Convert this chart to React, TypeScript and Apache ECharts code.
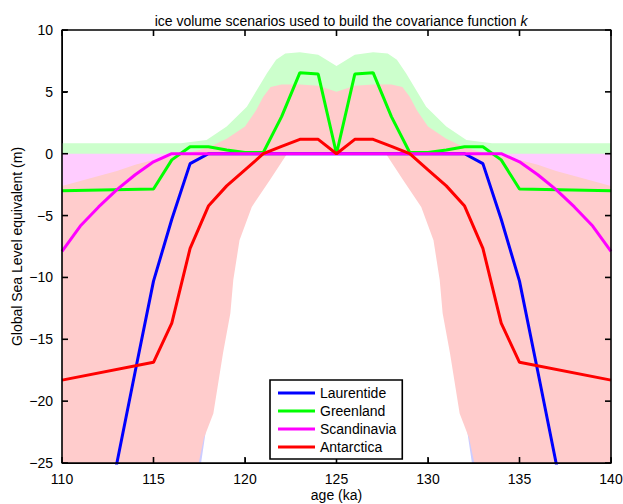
import React, { useEffect, useRef } from "react";
import * as echarts from "echarts";

// ---- thick scenario lines (age ka, GSL m) ----
const laurentide = [[112, -32.4], [113, -25], [114, -17.6], [115, -10.3], [116, -5.3], [117, -0.8], [118, 0], [132, 0], [133, -0.8], [134, -5.3], [135, -10.3], [136, -17.6], [137, -25], [138, -32.4]];
const greenland = [[110, -3.0], [115, -2.85], [116, -0.5], [117, 0.57], [118, 0.57], [119, 0.3], [120, 0.1], [121, 0.1], [122, 3.0], [123, 6.55], [124, 6.44], [125, 0], [126, 6.44], [127, 6.55], [128, 3.0], [129, 0.1], [130, 0.1], [131, 0.3], [132, 0.57], [133, 0.57], [134, -0.5], [135, -2.85], [140, -3.0]];
const scandinavia = [[110, -7.9], [111, -5.85], [112, -4.3], [113, -2.9], [114, -1.7], [115, -0.65], [116, 0], [134, 0], [135, -0.65], [136, -1.7], [137, -2.9], [138, -4.3], [139, -5.85], [140, -7.9]];
const antarctica = [[110, -18.3], [115, -16.86], [116, -13.7], [117, -7.65], [118, -4.23], [119, -2.6], [120, -1.3], [121, 0], [122, 0.6], [123, 1.16], [124, 1.16], [125, 0], [126, 1.16], [127, 1.16], [128, 0.6], [129, 0], [130, -1.3], [131, -2.6], [132, -4.23], [133, -7.65], [134, -13.7], [135, -16.86], [140, -18.3]];

// ---- ensemble envelopes (upper / lower edges of the faint scenario spread) ----
const laurentideBandUpper = [[110, 0], [140, 0]];
const laurentideBandLower = [[110, -30], [117.3, -30], [117.6, -25], [117.85, -22.5], [118.3, -15], [118.6, -2], [119, 0], [131, 0], [131.4, -2], [131.7, -15], [132.15, -22.5], [132.4, -25], [132.7, -30], [140, -30]];
const greenlandBandUpper = [[110, 0.84], [116.5, 0.84], [117.9, 1.1], [119, 2.2], [120.1, 3.8], [121.2, 6.5], [121.7, 7.6], [122.2, 8.1], [123, 8.2], [124, 8.0], [125, 7.1], [126, 8.0], [127, 8.2], [127.8, 8.1], [128.3, 7.6], [128.8, 6.5], [129.9, 3.8], [131, 2.2], [132.1, 1.1], [133.5, 0.84], [140, 0.84]];
const greenlandBandLower = [[110, -4], [116, -1], [117, 0], [133, 0], [134, -1], [140, -4]];
const scandinaviaBandUpper = [[110, 0], [140, 0]];
const scandinaviaBandLower = [[110, -30], [115, -30], [116.5, -5], [117, 0], [133, 0], [133.5, -5], [135, -30], [140, -30]];
const antarcticaBandUpper = [[110, -2.6], [111, -2.2], [112, -1.8], [113, -1.4], [114, -0.9], [115, -0.5], [116, -0.2], [117, 0.1], [118, 0.5], [119, 1.2], [120, 2.2], [120.6, 3.5], [121, 4.6], [121.4, 5.4], [122, 5.6], [123, 5.6], [124, 5.5], [125, 5.0], [126, 5.5], [127, 5.6], [128, 5.6], [128.6, 5.4], [129, 4.6], [129.4, 3.5], [130, 2.2], [131, 1.2], [132, 0.5], [133, 0.1], [134, -0.2], [135, -0.5], [136, -0.9], [137, -1.4], [138, -1.8], [139, -2.2], [140, -2.6]];
const antarcticaBandLower = [[110, -30], [117.2, -30], [117.4, -25.5], [117.75, -23], [118.27, -21], [118.8, -16.1], [119.2, -12.9], [119.36, -10.2], [119.7, -7.0], [120.37, -4.3], [121.37, -2.1], [122.3, 0], [127.7, 0], [128.63, -2.1], [129.63, -4.3], [130.3, -7.0], [130.64, -10.2], [130.8, -12.9], [131.2, -16.1], [131.73, -21], [132.25, -23], [132.6, -25.5], [132.8, -30], [140, -30]];

// ---- axis ticks ----
const xTickValues = [110, 115, 120, 125, 130, 135, 140];
const yTickValues = [-25, -20, -15, -10, -5, 0, 5, 10];
const xRange = { min: 110, max: 140, interval: 5 };
const yRange = { min: -25, max: 10, interval: 5 };

const FONT = "'Liberation Sans', Arial, Helvetica, sans-serif";

function band(name: string, upper: number[][], lower: number[][], color: string) {
  return {
    type: "custom",
    name,
    silent: true,
    clip: true,
    z: 1,
    data: [[125, 0]],
    encode: { x: 0, y: 1 },
    renderItem: (_p: any, api: any) => {
      const pts = upper.map((p) => api.coord(p)).concat(lower.slice().reverse().map((p) => api.coord(p)));
      return { type: "polygon", shape: { points: pts }, style: { fill: color, stroke: null } };
    },
  };
}

// plot box as a closed line through the four corners of the axis ranges
function box() {
  return {
    type: "line",
    name: "box",
    silent: true,
    clip: false,
    z: 40,
    symbol: "none",
    data: [
      [xRange.min, yRange.min], [xRange.max, yRange.min], [xRange.max, yRange.max],
      [xRange.min, yRange.max], [xRange.min, yRange.min],
    ],
    lineStyle: { color: "#000", width: 1.6 },
    itemStyle: { color: "#000" },
  };
}

// inward ticks on all four sides
function ticks() {
  return {
    type: "custom",
    name: "ticks",
    silent: true,
    clip: false,
    z: 45,
    data: [[125, 0]],
    encode: { x: 0, y: 1 },
    renderItem: (_p: any, api: any) => {
      const tl = api.coord([xRange.min, yRange.max]);
      const br = api.coord([xRange.max, yRange.min]);
      const T = 6;
      const children: any[] = [];
      const seg = (a: number, b: number, c: number, d: number) =>
        children.push({ type: "polyline", shape: { points: [[a, b], [c, d]] }, style: { stroke: "#000", lineWidth: 1.6, fill: null } });
      xTickValues.forEach((v) => {
        const x = api.coord([v, 0])[0];
        seg(x, br[1], x, br[1] - T);
        seg(x, tl[1], x, tl[1] + T);
      });
      yTickValues.forEach((v) => {
        const y = api.coord([xRange.min, v])[1];
        seg(tl[0], y, tl[0] + T, y);
        seg(br[0], y, br[0] - T, y);
      });
      return { type: "group", children };
    },
  };
}

function line(name: string, data: number[][], color: string) {
  return {
    type: "line",
    name,
    data,
    symbol: "none",
    clip: true,
    z: 5,
    lineStyle: { color, width: 3 },
    itemStyle: { color },
  };
}

const minus = (v: number) => String(v).replace("-", "\u2212");

export default function App() {
  const ref = useRef<HTMLDivElement>(null);
  useEffect(() => {
    if (!ref.current) return;
    const chart = echarts.init(ref.current, null, { renderer: "svg" });
    chart.setOption({
      animation: false,
      backgroundColor: "#fff",
      title: {
        text: "{a|ice volume scenarios used to build the covariance function }{b|k}",
        left: 336,
        textAlign: "center",
        top: 9,
        textStyle: {
          fontWeight: "normal",
          rich: {
            a: { fontFamily: FONT, fontSize: 14, color: "#000", fontWeight: "normal" },
            b: { fontFamily: FONT, fontSize: 14, color: "#000", fontStyle: "italic", fontWeight: "normal" },
          },
        },
      },
      grid: { left: 62, right: 12, top: 30, bottom: 41, outerBoundsMode: "none", containLabel: false },
      legend: {
        data: ["Laurentide", "Greenland", "Scandinavia", "Antarctica"],
        orient: "vertical",
        left: 270,
        top: 380,
        icon: "rect",
        itemWidth: 37,
        itemHeight: 3,
        itemGap: 4,
        padding: [6, 6, 5, 8],
        borderColor: "#000",
        borderWidth: 1.6,
        backgroundColor: "#fff",
        z: 60,
        textStyle: { fontFamily: FONT, fontSize: 14, color: "#000" },
      },
      xAxis: {
        type: "value",
        ...xRange,
        name: "age (ka)",
        nameLocation: "middle",
        nameGap: 25,
        nameMoveOverlap: false,
        nameTextStyle: { fontFamily: FONT, fontSize: 14, color: "#000" },
        axisLine: { show: true, onZero: false, lineStyle: { color: "#000", width: 1 } },
        axisTick: { show: true, inside: true, length: 5, lineStyle: { color: "#000", width: 1 } },
        splitLine: { show: false },
        axisLabel: { fontFamily: FONT, fontSize: 14, color: "#000", margin: 9 },
      },
      yAxis: {
        type: "value",
        ...yRange,
        name: "Global Sea Level equivalent (m)",
        nameLocation: "middle",
        nameGap: 38,
        nameMoveOverlap: false,
        nameTextStyle: { fontFamily: FONT, fontSize: 14, color: "#000" },
        axisLine: { show: true, onZero: false, lineStyle: { color: "#000", width: 1 } },
        axisTick: { show: true, inside: true, length: 5, lineStyle: { color: "#000", width: 1 } },
        splitLine: { show: false },
        axisLabel: { fontFamily: FONT, fontSize: 14, color: "#000", margin: 9, formatter: minus },
      },
      series: [
        band("laurentideBand", laurentideBandUpper, laurentideBandLower, "#ccccff"),
        band("greenlandBand", greenlandBandUpper, greenlandBandLower, "#ccffcc"),
        band("scandinaviaBand", scandinaviaBandUpper, scandinaviaBandLower, "#ffccff"),
        band("antarcticaBand", antarcticaBandUpper, antarcticaBandLower, "#ffcccc"),
        line("Laurentide", laurentide, "#0000ff"),
        line("Greenland", greenland, "#00ff00"),
        line("Scandinavia", scandinavia, "#ff00ff"),
        line("Antarctica", antarctica, "#ff0000"),
        box(),
        ticks(),
      ],
    });
    return () => chart.dispose();
  }, []);
  return <div ref={ref} style={{ position: "fixed", left: 0, top: 0, width: 623, height: 504 }} />;
}
